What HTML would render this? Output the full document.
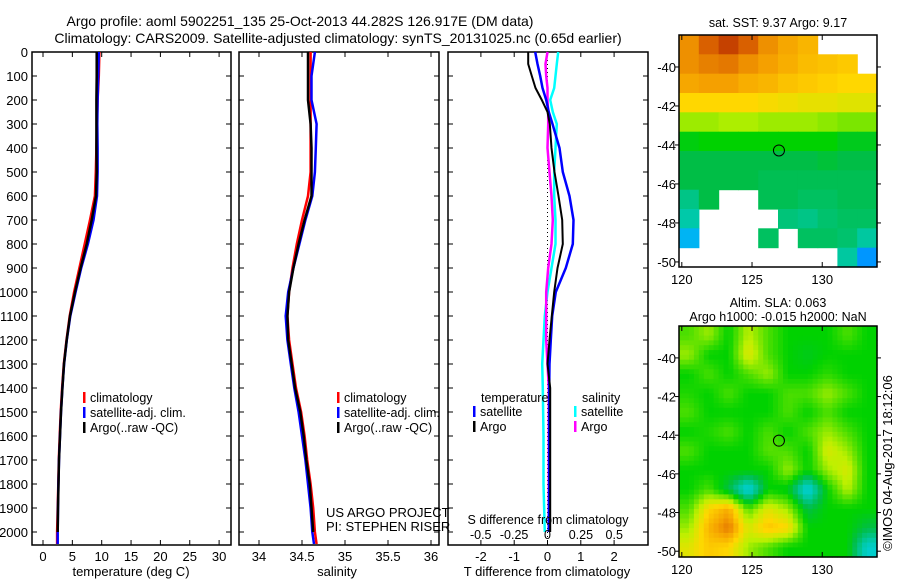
<!DOCTYPE html>
<html><head><meta charset="utf-8">
<style>
body{margin:0;background:#fff;}
svg{display:block;font-family:"Liberation Sans",sans-serif;}
text{fill:#000;}
</style></head>
<body>
<svg id="fig" width="900" height="580" viewBox="0 0 900 580" xmlns="http://www.w3.org/2000/svg">
<text x="300" y="26" font-size="14" text-anchor="middle">Argo profile: aoml 5902251_135 25-Oct-2013 44.282S 126.917E (DM data)</text>
<text x="338" y="43" font-size="14" text-anchor="middle">Climatology: CARS2009. Satellite-adjusted climatology: synTS_20131025.nc (0.65d earlier)</text>
<g id="p1"></g>
<g id="p2"></g>
<g id="p3"></g>
<g id="m1"></g>
<g id="m2"></g>
<text x="0" y="0" font-size="13" text-anchor="middle" transform="translate(892,463) rotate(-90)">©IMOS 04-Aug-2017 18:12:06</text>
</svg>
<script>
const depths=[0,100,200,300,400,500,600,700,800,900,1000,1100,1200,1300,1400,1500,1600,1700,1800,1900,2000,2050];
const argoT=[9.15,9.15,9.1,9.1,9.1,9.15,9.03,8.3,7.44,6.4,5.45,4.6,4.03,3.58,3.3,3.07,2.9,2.72,2.64,2.55,2.5,2.5];
const climT=[9.6,9.5,9.3,9.2,9.1,9.0,8.85,8.0,7.1,6.2,5.3,4.55,4.0,3.55,3.25,3.02,2.85,2.7,2.6,2.5,2.4,2.4];
const satT=[9.5,9.4,9.3,9.25,9.3,9.3,9.2,8.6,7.65,6.5,5.55,4.65,4.05,3.6,3.3,3.07,2.9,2.72,2.62,2.55,2.5,2.5];
const argoS=[34.57,34.57,34.57,34.6,34.61,34.61,34.61,34.53,34.46,34.4,34.35,34.33,34.34,34.38,34.42,34.48,34.52,34.55,34.59,34.61,34.63,34.64];
const climS=[34.6,34.6,34.6,34.6,34.6,34.6,34.57,34.5,34.44,34.39,34.35,34.33,34.35,34.39,34.43,34.49,34.53,34.56,34.6,34.63,34.65,34.67];
const satS=[34.65,34.61,34.61,34.67,34.66,34.65,34.62,34.54,34.47,34.4,34.34,34.31,34.33,34.37,34.41,34.46,34.5,34.54,34.57,34.6,34.62,34.64];
const diffDepths=[0,50,100,150,200,250,300,400,500,600,700,800,900,1000,1100,1200,1300,1400,1600,1800,2000];
const argoTdiff=[-0.58,-0.58,-0.47,-0.36,-0.17,0.0,0.07,0.12,0.21,0.33,0.44,0.46,0.3,0.2,0.13,0.06,0.0,0.08,0.08,0.08,0.08];
const satTdiff=[-0.37,-0.3,-0.22,-0.15,-0.04,0.04,0.15,0.36,0.46,0.66,0.78,0.76,0.55,0.25,0.14,0.1,0.06,0.05,0.05,0.05,0.04];
const satSdiff=[0.08,0.07,0.06,0.05,0.02,0.04,0.07,0.06,0.05,0.05,0.06,0.06,0.03,0.0,-0.02,-0.03,-0.04,-0.035,-0.03,-0.03,-0.02];
const argoSdiff=[0,-0.015,-0.01,0,0,0.005,0.005,0,0.015,0.03,0.04,0.03,0.005,-0.01,-0.01,-0.01,0.0,0.01,0.01,0.01,0.01];
const depthTicks=[0,100,200,300,400,500,600,700,800,900,1000,1100,1200,1300,1400,1500,1600,1700,1800,1900,2000];
const tTicks=[0,5,10,15,20,25,30];
const sTicks=[34,34.5,35,35.5,36];
const sTickLabels=["34","34.5","35","35.5","36"];
const dTTicks=[-2,-1,0,1,2];
const dSTicks=[-0.5,-0.25,0,0.25,0.5];
const dSTickLabels=["-0.5","-0.25","0","0.25","0.5"];
const sstGrid=[
[0.8,0.86,0.9,0.86,0.8,0.77,0.75,null,null,null],
[0.8,0.82,0.83,0.8,0.78,0.76,0.74,0.73,0.72,null],
[0.77,0.78,0.78,0.76,0.75,0.73,0.72,0.71,0.7,0.7],
[0.7,0.7,0.7,0.7,0.69,0.68,0.67,0.67,0.66,0.66],
[0.6,0.6,0.61,0.61,0.6,0.6,0.6,0.59,0.58,0.58],
[0.49,0.5,0.5,0.5,0.5,0.5,0.5,0.5,0.48,0.48],
[0.45,0.45,0.45,0.45,0.45,0.45,0.45,0.46,0.45,0.45],
[0.45,0.45,0.45,0.45,0.44,0.44,0.44,0.44,0.44,0.44],
[0.4,0.45,null,null,0.44,0.44,0.43,0.43,0.44,0.44],
[0.37,null,null,null,null,0.41,0.4,0.42,0.43,0.43],
[0.25,null,null,null,0.43,null,0.43,0.43,0.42,0.38],
[null,null,null,null,null,null,null,null,0.38,0.2]];
const slaGrid=[
[0.55,0.6,0.5,0.62,0.55,0.5,0.5,0.5,0.55,0.5],
[0.6,0.5,0.5,0.66,0.55,0.5,0.48,0.5,0.5,0.5],
[0.5,0.55,0.5,0.55,0.6,0.5,0.5,0.53,0.5,0.5],
[0.52,0.5,0.55,0.5,0.5,0.55,0.55,0.6,0.55,0.5],
[0.55,0.5,0.5,0.5,0.5,0.55,0.5,0.55,0.5,0.5],
[0.5,0.52,0.55,0.5,0.55,0.5,0.55,0.6,0.55,0.5],
[0.55,0.5,0.5,0.5,0.56,0.55,0.5,0.65,0.6,0.5],
[0.5,0.5,0.5,0.5,0.5,0.6,0.5,0.6,0.65,0.5],
[0.5,0.55,0.45,0.3,0.5,0.48,0.3,0.5,0.62,0.5],
[0.55,0.7,0.76,0.55,0.66,0.6,0.45,0.5,0.5,0.5],
[0.6,0.75,0.83,0.65,0.73,0.7,0.5,0.5,0.5,0.45],
[0.66,0.72,0.7,0.6,0.55,0.5,0.5,0.5,0.5,0.33]];
const lonTicks=[120,125,130];
const latTicks=[-40,-42,-44,-46,-48,-50];
const floatLon=126.917, floatLat=-44.282;

const NS="http://www.w3.org/2000/svg";
function mk(tag,attrs,parent){const e=document.createElementNS(NS,tag);for(const k in attrs)e.setAttribute(k,attrs[k]);parent.appendChild(e);return e;}
const TOP=52,BOT=545;
const yD=d=>TOP+d*0.24;
function frame(g,x0,x1){
  const r=mk('rect',{x:x0,y:TOP,width:x1-x0,height:BOT-TOP,fill:'none',stroke:'#000','stroke-width':1.5},g);
  
  
  depthTicks.forEach(d=>{
    mk('line',{x1:x0,x2:x0+5,y1:yD(d),y2:yD(d),stroke:'#000'},g);
    mk('line',{x1:x1-5,x2:x1,y1:yD(d),y2:yD(d),stroke:'#000'},g);
  });
}
function xTicks(g,vals,labels,fx){
  vals.forEach((v,i)=>{
    const x=fx(v);
    mk('line',{x1:x,x2:x,y1:BOT,y2:BOT-5,stroke:'#000'},g);
    mk('line',{x1:x,x2:x,y1:TOP,y2:TOP+5,stroke:'#000'},g);
    const t=mk('text',{x:x,y:561,'font-size':13,'text-anchor':'middle'},g);t.textContent=labels[i];
    
    
  });
}
function line(g,xs,ds,fx,color,w,name){
  const pts=xs.map((v,i)=>fx(v).toFixed(1)+','+yD(ds[i]).toFixed(1)).join(' ');
  const p=mk('polyline',{points:pts,fill:'none',stroke:color,'stroke-width':w},g);
  
  
}
function legend(g,x,y,items){
  items.forEach((it,i)=>{
    mk('rect',{x:x,y:y+i*15-10,width:2.5,height:11,fill:it[0]},g);
    const t=mk('text',{x:x+7,y:y+i*15,'font-size':12.5},g);t.textContent=it[1];
    
    
  });
}
function txt(g,x,y,s,str,anchor,name){const t=mk('text',{x:x,y:y,'font-size':s,'text-anchor':anchor||'start'},g);t.textContent=str;
  
  return t;}

const g1=document.getElementById('p1');
const fT=v=>43+v*5.87;
frame(g1,32,231);
depthTicks.forEach(d=>{txt(g1,28,yD(d)+5,13,String(d),'end','depth-tick-label');});
xTicks(g1,tTicks,tTicks.map(String),fT);
line(g1,climT,depths,fT,'#f00',2.5,'climatology-temperature-line');
line(g1,satT,depths,fT,'#00f',2.5,'satellite-temperature-line');
line(g1,argoT.slice(0,21),depths.slice(0,21),fT,'#000',2.5,'argo-temperature-line');
legend(g1,83,402,[['#f00','climatology'],['#00f','satellite-adj. clim.'],['#000','Argo(..raw -QC)']]);
txt(g1,131,576,13,'temperature (deg C)','middle','x-axis-title-temperature');

const g2=document.getElementById('p2');
const fS=v=>259+(v-34)*86;
frame(g2,239,439);
xTicks(g2,sTicks,sTickLabels,fS);
line(g2,climS,depths,fS,'#f00',2.5,'climatology-salinity-line');
line(g2,satS,depths,fS,'#00f',2.5,'satellite-salinity-line');
line(g2,argoS.slice(0,21),depths.slice(0,21),fS,'#000',2.5,'argo-salinity-line');
legend(g2,337,402,[['#f00','climatology'],['#00f','satellite-adj. clim.'],['#000','Argo(..raw -QC)']]);
txt(g2,326,517,13,'US ARGO PROJECT','start','project-label');
txt(g2,326,531,13,'PI: STEPHEN RISER','start','pi-label');
txt(g2,337,576,13,'salinity','middle','x-axis-title-salinity');

const g3=document.getElementById('p3');
const fdT=v=>547.5+v*33.3;
const fdS=v=>547.5+v*133.5;
frame(g3,448,648);
xTicks(g3,dTTicks,dTTicks.map(String),fdT);
mk('line',{x1:fdT(0),x2:fdT(0),y1:TOP,y2:BOT,stroke:'#000','stroke-dasharray':'1,3'},g3);
line(g3,satSdiff,diffDepths,fdS,'#0ff',2.5,'satellite-salinity-diff-line');
line(g3,argoSdiff,diffDepths,fdS,'#f0f',2.5,'argo-salinity-diff-line');
line(g3,satTdiff,diffDepths,fdT,'#00f',2.5,'satellite-temperature-diff-line');
line(g3,argoTdiff,diffDepths,fdT,'#000',2,'argo-temperature-diff-line');
txt(g3,481,402,12.5,'temperature','start','legend-title-temperature');
txt(g3,582,402,12.5,'salinity','start','legend-title-salinity');
legend(g3,473,416,[['#00f','satellite'],['#000','Argo']]);
legend(g3,574,416,[['#0ff','satellite'],['#f0f','Argo']]);
txt(g3,548,524,12.5,'S difference from climatology','middle','s-axis-title');
dSTicks.forEach((v,i)=>txt(g3,fdS(v),539,12.5,dSTickLabels[i],'middle','s-tick-label'));
txt(g3,547,576,13,'T difference from climatology','middle','x-axis-title-t-diff');

const stops=[[0,[0,40,200]],[0.2,[0,150,255]],[0.3,[0,210,230]],[0.38,[0,200,160]],[0.45,[0,190,70]],[0.5,[0,210,0]],[0.56,[90,225,0]],[0.62,[190,240,0]],[0.7,[255,215,0]],[0.78,[245,160,0]],[0.88,[210,80,0]],[0.96,[160,20,0]],[1,[130,0,0]]];
function cmap(v){for(let i=1;i<stops.length;i++){if(v<=stops[i][0]){const a=stops[i-1],b=stops[i];const t=(v-a[0])/(b[0]-a[0]);const c=a[1].map((x,k)=>Math.round(x+(b[1][k]-x)*t));return 'rgb('+c.join(',')+')';}}return 'rgb(130,0,0)';}

function sample(grid,fr,fc){
  const nr=grid.length,nc=grid[0].length;
  const r=Math.min(Math.max(fr,0),nr-1),c=Math.min(Math.max(fc,0),nc-1);
  const r0=Math.floor(r),c0=Math.floor(c),r1=Math.min(r0+1,nr-1),c1=Math.min(c0+1,nc-1);
  const tr=r-r0,tc=c-c0;
  const a=grid[r0][c0],b=grid[r0][c1],cc=grid[r1][c0],d=grid[r1][c1];
  return (a*(1-tc)+b*tc)*(1-tr)+(cc*(1-tc)+d*tc)*tr;
}
function map(gid,grid,x0,x1,y0,y1,latTop,latBot,titleLines,name,smooth){
  const g=document.getElementById(gid);
  const lon0=119.8,lon1=133.9;
  const fx=l=>x0+(l-lon0)/(lon1-lon0)*(x1-x0);
  const fy=l=>y0+(latTop-l)/(latTop-latBot)*(y1-y0);
  const nr=grid.length,nc=grid[0].length;
  const sub=smooth?4:1;
  const dLon=(lon1-lon0)/(nc*sub),dLat=(latTop-latBot)/(nr*sub);
  for(let j=0;j<nr*sub;j++)for(let i=0;i<nc*sub;i++){
    const v=smooth?sample(grid,(j+0.5)/sub-0.5,(i+0.5)/sub-0.5):grid[j][i];
    if(v===null)continue;
    const xa=fx(lon0+i*dLon),xb=fx(lon0+(i+1)*dLon),ya=fy(latTop-j*dLat),yb=fy(latTop-(j+1)*dLat);
    const r=mk('rect',{x:xa.toFixed(1),y:ya.toFixed(1),width:(xb-xa+0.6).toFixed(1),height:(yb-ya+0.6).toFixed(1),fill:cmap(v)},g);
    
    
  }
  const fr=mk('rect',{x:x0,y:y0,width:x1-x0,height:y1-y0,fill:'none',stroke:'#000','stroke-width':1.5},g);
  
  
  lonTicks.forEach(l=>{const x=fx(l);mk('line',{x1:x,x2:x,y1:y1,y2:y1-5,stroke:'#000'},g);mk('line',{x1:x,x2:x,y1:y0,y2:y0+5,stroke:'#000'},g);
    txt(g,x,y1+17,13,String(l),'middle','lon-tick-label');});
  latTicks.forEach(l=>{const y=fy(l);mk('line',{x1:x0-4,x2:x0,y1:y,y2:y,stroke:'#000'},g);mk('line',{x1:x1,x2:x1+4,y1:y,y2:y,stroke:'#000'},g);
    txt(g,x0-3,y+5,13,String(l),'end','lat-tick-label');});
  const c=mk('circle',{cx:fx(floatLon),cy:fy(floatLat),r:5.5,fill:'none',stroke:'#000','stroke-width':1},g);
  
  
  titleLines.forEach((s,i)=>txt(g,(x0+x1)/2,titleLines.length>1?y0-19+i*14:y0-8,12.5,s,'middle',name+'-title'));
}
map('m1',sstGrid,679,877,35,267,-38.36,-50.26,['sat. SST: 9.37 Argo: 9.17'],'sst-map',false);
map('m2',slaGrid,679,877,326,557,-38.35,-50.3,['Altim. SLA: 0.063','Argo h1000: -0.015 h2000: NaN'],'sla-map',true);
</script>
</body></html>
